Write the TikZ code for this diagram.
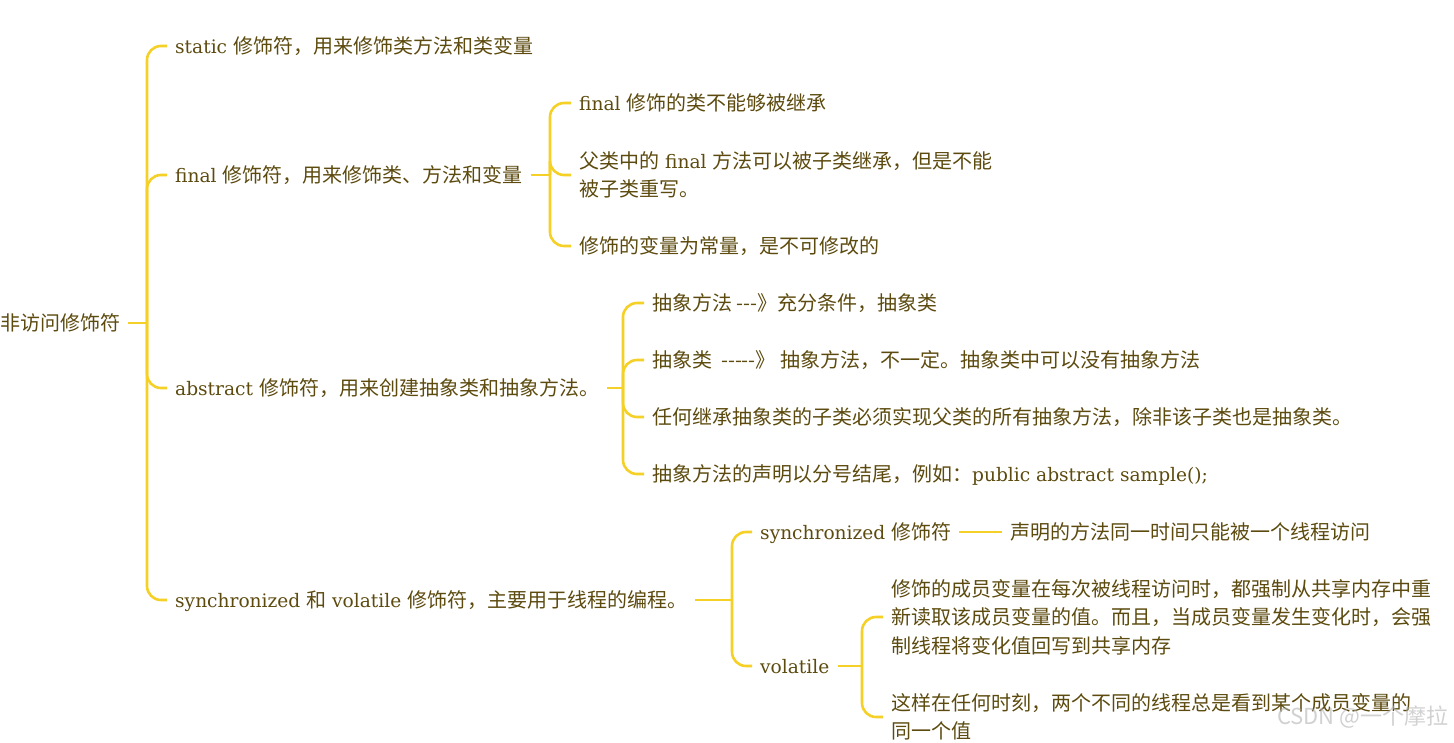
\documentclass[tikz,border=0pt]{standalone}
\usepackage{fontspec}
\setmainfont{Noto Sans CJK SC}[Ligatures=TeXOff]
\newfontfamily\latin{DejaVu Serif}[Scale=0.93]
\newcommand{\en}[1]{{\latin #1}}
\usetikzlibrary{positioning}
\definecolor{inkbrown}{RGB}{92,74,14}
\definecolor{branchgold}{RGB}{245,208,38}
\tikzset{
  para/.style={anchor=west, text=inkbrown, inner xsep=8pt, inner ysep=2pt, align=left, font=\fontsize{20pt}{28.5pt}\selectfont},
  oneline/.style={para, text height=17pt, text depth=3pt},
  branch/.style={draw=branchgold, line width=2.6pt, rounded corners=14pt},
  watermark/.style={anchor=east, text=gray!60, opacity=0.6, font=\fontsize{22pt}{22pt}\selectfont},
}

\begin{document}
\begin{tikzpicture}[x=1pt, y=-1pt]
  \useasboundingbox (0,0) rectangle (1454,742);

  % root and first level
  \node[oneline] (root) at (-8,323) {非访问修饰符};
  \node[oneline] (static) at (167,46) {\en{static }修饰符，用来修饰类方法和类变量};
  \node[oneline] (final) at (167,175) {\en{final }修饰符，用来修饰类、方法和变量};
  \node[oneline] (abstract) at (167,388) {\en{abstract }修饰符，用来创建抽象类和抽象方法。};
  \node[oneline] (sync) at (167,600) {\en{synchronized }和\en{ volatile }修饰符，主要用于线程的编程。};

  % final
  \node[oneline] (final1) at (571,103) {\en{final }修饰的类不能够被继承};
  \node[para] (final2) at (571,175) {父类中的\en{ final }方法可以被子类继承，但是不能\\被子类重写。};
  \node[oneline] (final3) at (571,246) {修饰的变量为常量，是不可修改的};

  % abstract
  \node[oneline] (abs1) at (644,303) {抽象方法 ---》充分条件，抽象类};
  \node[oneline] (abs2) at (644,360) {抽象类\ \ -----》 抽象方法，不一定。抽象类中可以没有抽象方法};
  \node[oneline] (abs3) at (644,417) {任何继承抽象类的子类必须实现父类的所有抽象方法，除非该子类也是抽象类。};
  \node[oneline] (abs4) at (644,474) {抽象方法的声明以分号结尾，例如：\en{public abstract sample();}};

  % synchronized / volatile
  \node[oneline] (synmod) at (752,532) {\en{synchronized }修饰符};
  \node[oneline] (vol) at (752,666) {\en{volatile}};
  \node[oneline] (synleaf) at (1002,532) {声明的方法同一时间只能被一个线程访问};
  \node[para] (vol1) at (883,617) {修饰的成员变量在每次被线程访问时，都强制从共享内存中重\\新读取该成员变量的值。而且，当成员变量发生变化时，会强\\制线程将变化值回写到共享内存};
  \node[para] (vol2) at (883,717) {这样在任何时刻，两个不同的线程总是看到某个成员变量的\\同一个值};

  \coordinate (jroot) at (147,323);
  \coordinate (jfinal) at (550,175);
  \coordinate (jabs) at (623,388);
  \coordinate (jsync) at (732,600);
  \coordinate (jvol) at (862,666);

  \draw[branch] (root.east) -- (jroot);
  \foreach \n in {static,final,abstract,sync}
    \draw[branch] (jroot) |- (\n.west);
  \draw[branch] (final.east) -- (jfinal);
  \foreach \n in {final1,final2,final3}
    \draw[branch] (jfinal) |- (\n.west);
  \draw[branch] (abstract.east) -- (jabs);
  \foreach \n in {abs1,abs2,abs3,abs4}
    \draw[branch] (jabs) |- (\n.west);
  \draw[branch] (sync.east) -- (jsync);
  \foreach \n in {synmod,vol}
    \draw[branch] (jsync) |- (\n.west);
  \draw[branch] (synmod.east) -- (synleaf.west);
  \draw[branch] (vol.east) -- (jvol);
  \foreach \n in {vol1,vol2}
    \draw[branch] (jvol) |- (\n.west);

  \node[watermark] (mark) at (1452,717) {CSDN @一个摩拉};
\end{tikzpicture}
\end{document}
